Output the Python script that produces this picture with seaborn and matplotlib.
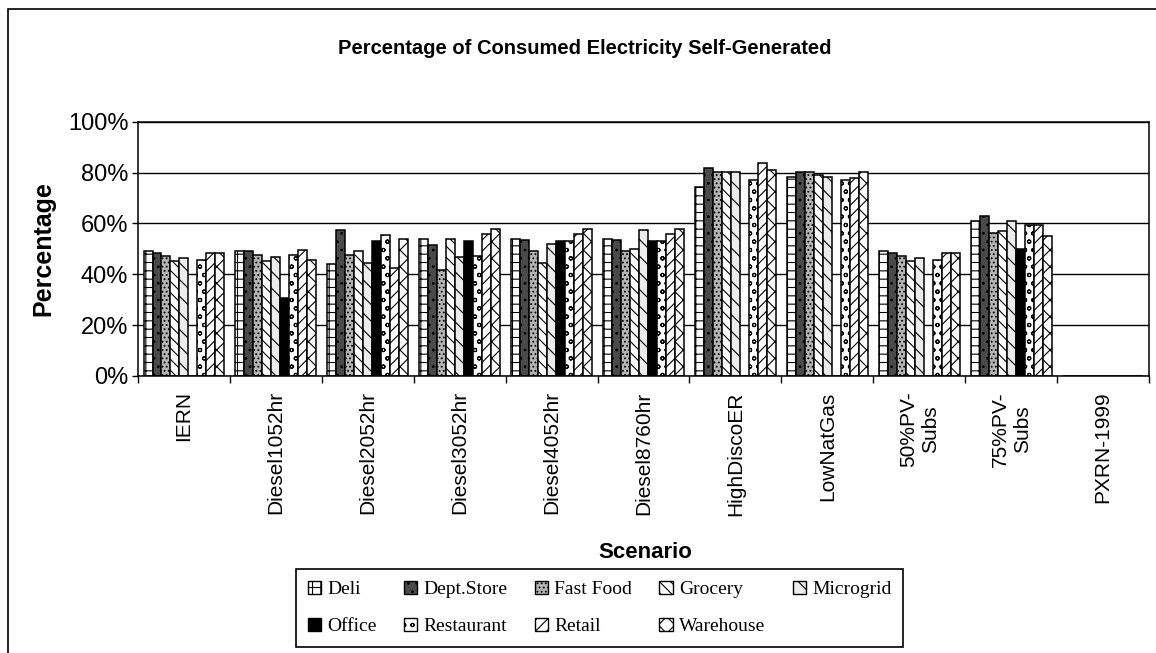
import matplotlib
matplotlib.use('Agg')
import matplotlib.pyplot as plt
import matplotlib.patches as mpatches
import matplotlib.ticker as mticker
import seaborn as sns
import pandas as pd
import numpy as np

# scenarios on the x axis
scenarios = ['IERN', 'Diesel1052hr', 'Diesel2052hr', 'Diesel3052hr', 'Diesel4052hr',
             'Diesel8760hr', 'HighDiscoER', 'LowNatGas', '50%PV-\nSubs', '75%PV-\nSubs',
             'PXRN-1999']
building_types = ['Deli', 'Dept.Store', 'Fast Food', 'Grocery', 'Microgrid',
                  'Office', 'Restaurant', 'Retail', 'Warehouse']

# percentage self-generated, one list per building type
deli = [49.0, 49.2, 43.9, 54.0, 54.0, 54.0, 74.5, 78.2, 49.2, 60.9, 0]
dept_store = [48.5, 49.2, 57.3, 51.4, 53.3, 53.3, 81.7, 80.4, 48.5, 63.0, 0]
fast_food = [47.2, 47.7, 47.7, 41.8, 49.2, 49.2, 80.4, 80.4, 47.2, 56.3, 0]
grocery = [45.2, 45.1, 49.2, 54.0, 44.6, 50.1, 80.1, 79.2, 45.1, 57.0, 0]
microgrid = [46.5, 46.8, 44.6, 46.8, 52.0, 57.3, 80.1, 78.2, 46.5, 60.9, 0]
office = [0, 30.7, 53.1, 53.1, 53.1, 53.1, 0, 0, 0, 49.8, 0]
restaurant = [45.7, 47.7, 55.3, 47.3, 53.1, 53.1, 77.1, 77.1, 45.7, 59.5, 0]
retail = [48.4, 49.7, 42.6, 56.0, 56.0, 56.0, 83.7, 77.8, 48.4, 59.5, 0]
warehouse = [48.4, 45.7, 54.0, 57.8, 57.8, 57.8, 81.0, 80.4, 48.4, 55.0, 0]

series = [deli, dept_store, fast_food, grocery, microgrid, office, restaurant, retail, warehouse]

# black & white look of the original print
face_colors = ['white', '#4a4a4a', '#b4b4b4', 'white', '#ececec', 'black', 'white', 'white', 'white']
hatches = ['++', '..', '....', '\\\\\\', '\\\\', None, 'oo', '///', 'xx']

rows = []
for t, vals in zip(building_types, series):
    for s, v in zip(scenarios, vals):
        rows.append({'Scenario': s, 'Type': t, 'Value': v})
df = pd.DataFrame(rows)

sns.set_style('white')
plt.rcParams['hatch.linewidth'] = 0.8
plt.rcParams['font.family'] = ['Liberation Sans', 'DejaVu Sans']
for k in ['text.color', 'axes.labelcolor', 'xtick.color', 'ytick.color']:
    plt.rcParams[k] = 'black'

W, H = 1156, 653
fig = plt.figure(figsize=(W / 100, H / 100), dpi=100)
ax = fig.add_axes([138 / W, 1 - 376 / H, 1011 / W, 254.3 / H])

sns.barplot(data=df, x='Scenario', y='Value', hue='Type', order=scenarios,
            hue_order=building_types, palette=face_colors, saturation=1,
            width=0.88, gap=0, errorbar=None, edgecolor='black', linewidth=1.1,
            legend=False, ax=ax)

for cont, h in zip(ax.containers, hatches):
    for p in cont.patches:
        if h:
            p.set_hatch(h)

ax.set_ylim(0, 100)
ax.set_xlim(-0.5, len(scenarios) - 0.5)
ax.set_yticks(np.arange(0, 101, 20))
ax.yaxis.set_major_formatter(mticker.FuncFormatter(lambda v, _: f'{v:.0f}%'))
ax.grid(axis='y', color='black', linewidth=1.0)
ax.set_axisbelow(True)
for sp in ax.spines.values():
    sp.set_color('black')
    sp.set_linewidth(1.1)

ax.set_xticks(np.arange(len(scenarios)))
ax.set_xticklabels(scenarios, rotation=90, ha='center', va='top',
                   multialignment='center', fontsize=15)
ax.set_xticks(np.arange(len(scenarios) + 1) - 0.5, minor=True)
ax.tick_params(axis='x', which='major', length=0, pad=11)
ax.tick_params(axis='x', which='minor', length=5, width=1, color='black', direction='out', bottom=True)
ax.tick_params(axis='y', length=4, width=1, color='black', direction='out', left=True, pad=3)
for lbl in ax.get_yticklabels():
    lbl.set_fontsize(17)
ax.set_xlabel('')
ax.set_ylabel('')

fig.text(585 / W, 1 - 48 / H, 'Percentage of Consumed Electricity Self-Generated',
         ha='center', va='center', fontsize=14.5, fontweight='bold')
fig.text(43 / W, 1 - 249 / H, 'Percentage', rotation=90, ha='center', va='center',
         fontsize=18, fontweight='bold')
fig.text(645 / W, 1 - 553 / H, 'Scenario', ha='center', va='center',
         fontsize=16, fontweight='bold')

handles = [mpatches.Patch(facecolor=c, edgecolor='black', hatch=h, linewidth=1.0)
           for c, h in zip(face_colors, hatches)]
order = [0, 5, 1, 6, 2, 7, 3, 8, 4]
leg = fig.legend([handles[i] for i in order], [building_types[i] for i in order],
                 ncol=5, loc='lower left', mode='expand',
                 bbox_to_anchor=(296 / W, 6 / H, 607 / W, 83 / H),
                 frameon=True, fancybox=False, edgecolor='black', framealpha=1,
                 handlelength=0.7, handleheight=0.7, handletextpad=0.3,
                 labelspacing=1.0, borderpad=0.6, borderaxespad=0,
                 prop={'family': 'Liberation Serif', 'size': 14})
leg.get_frame().set_linewidth(1.2)

# outer chart frame
fig.patches.append(mpatches.Rectangle((8 / W, -0.05), 1.2, 1 - 9 / H + 0.05,
                                      transform=fig.transFigure, fill=False,
                                      edgecolor='black', linewidth=1.2))

fig.savefig('out.png', dpi=100)
